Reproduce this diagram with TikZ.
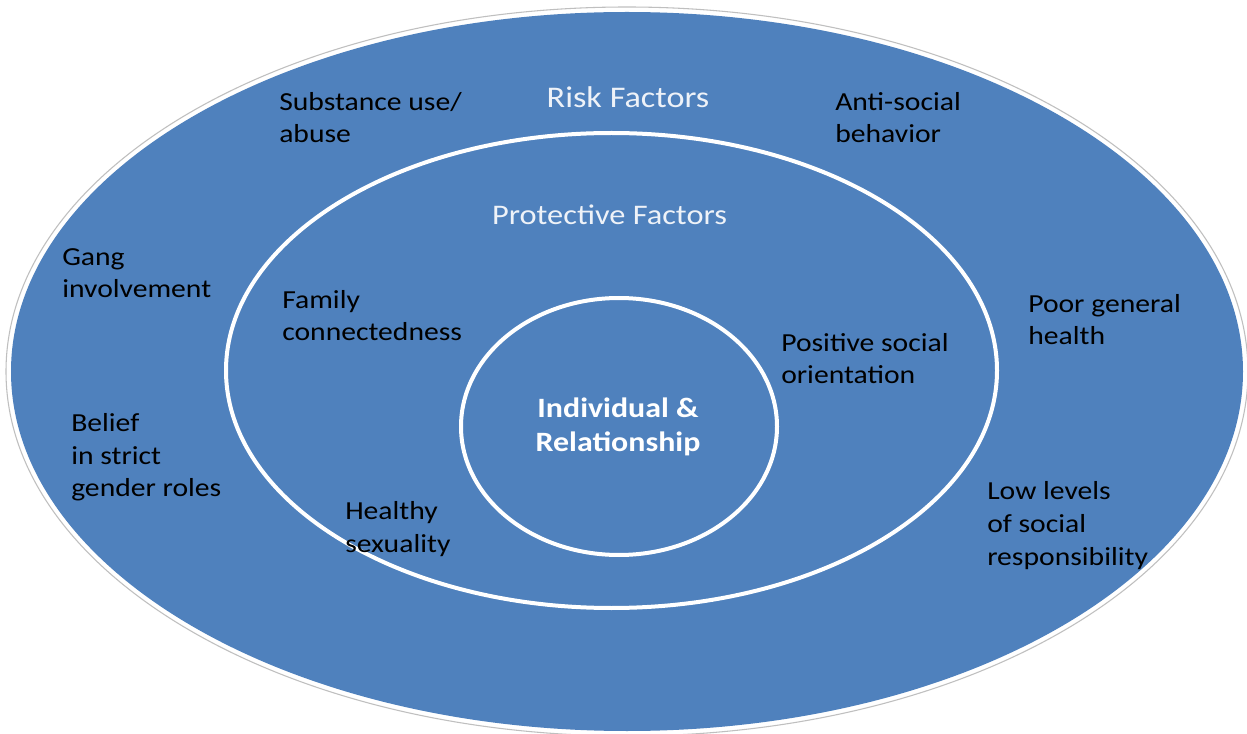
\documentclass[tikz,border=0pt]{standalone}
\usepackage{fontspec}
\setmainfont{Carlito}[FakeStretch=1.14]
\definecolor{fillblue}{HTML}{4F81BD}
\definecolor{lighttext}{HTML}{EEF2F8}
\begin{document}
\begin{tikzpicture}[x=0.75pt,y=-0.75pt,
  lbl/.style={anchor=base west,inner sep=0pt,align=left,text=black,
    font=\fontsize{19.5}{24.4}\selectfont},
  head/.style={anchor=base,inner sep=0pt,text=lighttext,
    font=\fontsize{22.5}{27}\selectfont},
  ring/.style={draw=white,line width=3pt}]
\useasboundingbox (0,0) rectangle (1247,734);
\fill[white] (0,0) rectangle (1247,734);
\draw[black!25,line width=0.8pt] (627,371.5) ellipse [x radius=621,y radius=364.5];
\fill[fillblue] (627,371.5) ellipse [x radius=616,y radius=359.5];
\draw[ring] (611.5,370.5) ellipse [x radius=385.5,y radius=237.5];
\draw[ring] (619,426.5) ellipse [x radius=158,y radius=128.5];
\node[head] (risk) at (628,108) {Risk Factors};
\node[head,font=\fontsize{21.3}{26}\selectfont] (prot) at (609.5,225) {Protective Factors};
\node[anchor=base,inner sep=0pt,align=center,text=white,
  font=\fontsize{21}{25.5}\selectfont\bfseries] (ind) at (618,451) {Individual \&\\Relationship};
\node[lbl] (sub) at (279,143) {Substance use/\\abuse};
\node[lbl] (anti) at (835,143) {Anti-social\\behavior};
\node[lbl] (gang) at (62,298) {Gang\\involvement};
\node[lbl] (fam) at (282,341) {Family\\connectedness};
\node[lbl] (poor) at (1028,345) {Poor general\\health};
\node[lbl] (pos) at (781,384) {Positive social\\orientation};
\node[lbl] (bel) at (71,497) {Belief\\in strict\\gender roles};
\node[lbl] (low) at (987,565) {Low levels\\of social\\responsibility};
\node[lbl] (hea) at (345,552) {Healthy\\sexuality};
\end{tikzpicture}
\end{document}
